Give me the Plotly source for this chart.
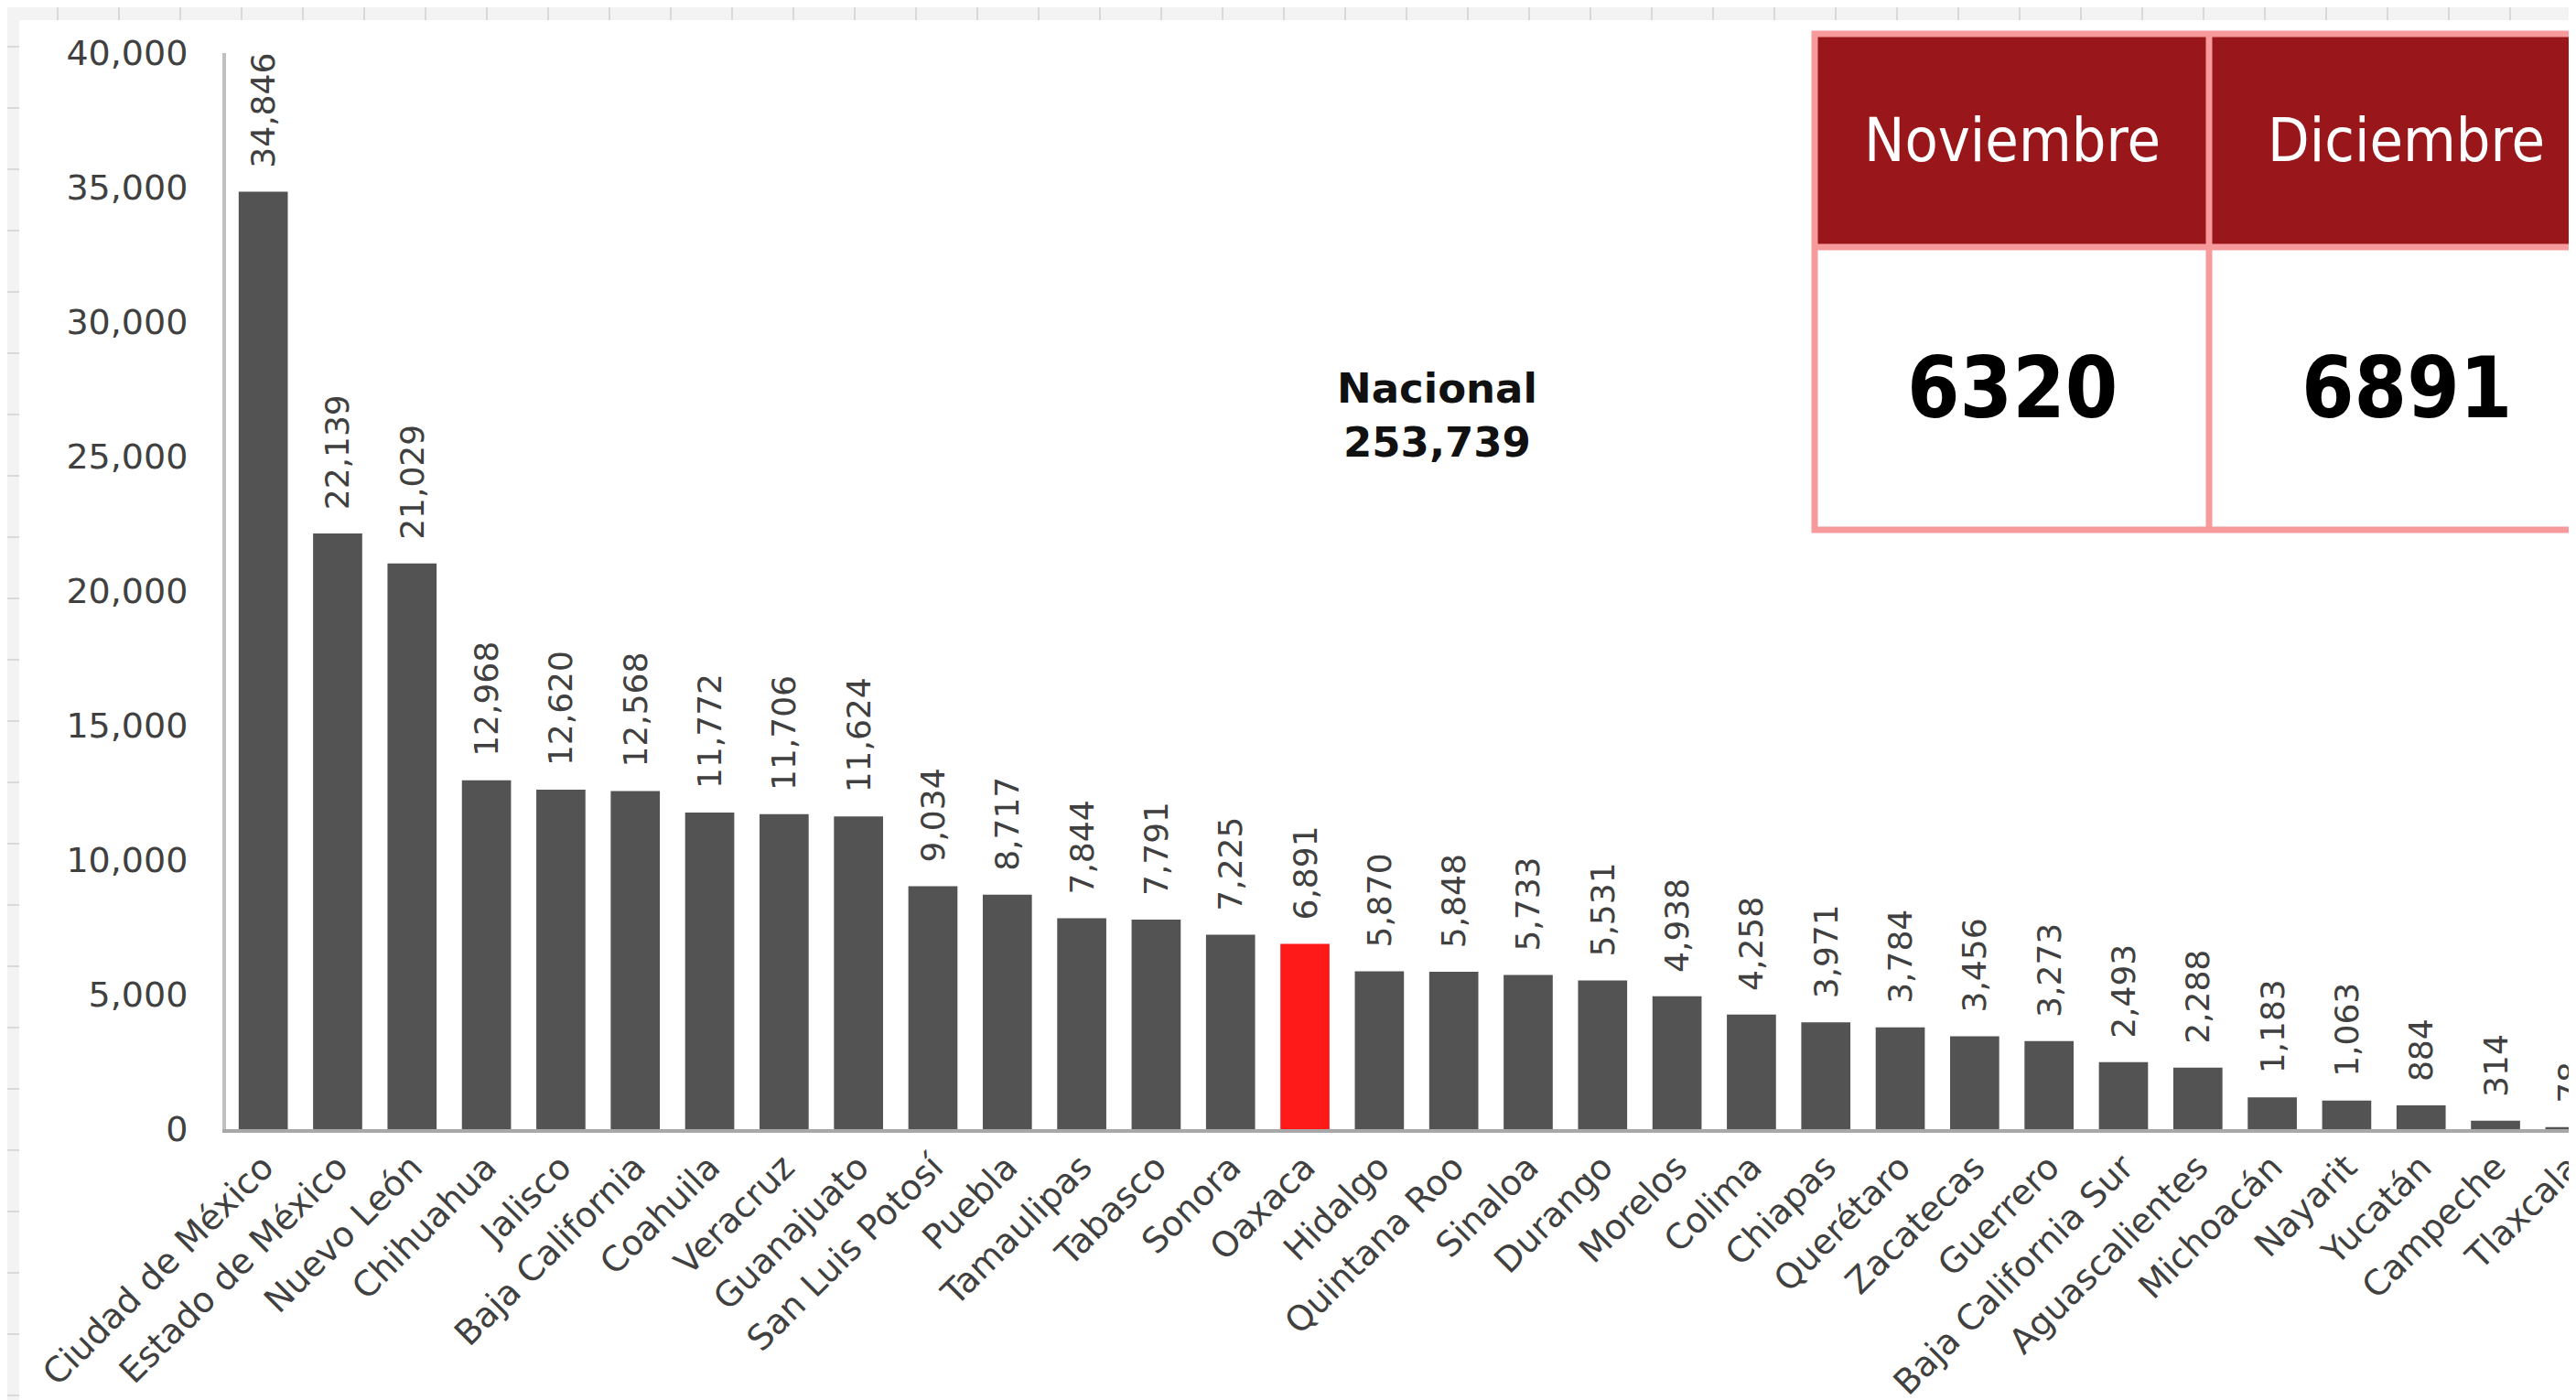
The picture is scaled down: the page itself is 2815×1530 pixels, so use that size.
import plotly.graph_objects as go

# ---------------- data ----------------
estados = ["Ciudad de México", "Estado de México", "Nuevo León", "Chihuahua", "Jalisco",
           "Baja California", "Coahuila", "Veracruz", "Guanajuato", "San Luis Potosí",
           "Puebla", "Tamaulipas", "Tabasco", "Sonora", "Oaxaca", "Hidalgo",
           "Quintana Roo", "Sinaloa", "Durango", "Morelos", "Colima", "Chiapas",
           "Querétaro", "Zacatecas", "Guerrero", "Baja California Sur", "Aguascalientes",
           "Michoacán", "Nayarit", "Yucatán", "Campeche", "Tlaxcala"]
casos = [34846, 22139, 21029, 12968, 12620, 12568, 11772, 11706, 11624, 9034,
         8717, 7844, 7791, 7225, 6891, 5870, 5848, 5733, 5531, 4938, 4258, 3971,
         3784, 3456, 3273, 2493, 2288, 1183, 1063, 884, 314, 78]
destacado = "Oaxaca"
y_ticks = [0, 5000, 10000, 15000, 20000, 25000, 30000, 35000, 40000]
nacional_label = "Nacional"
nacional_total = 253739
meses = ["Noviembre", "Diciembre"]
valores_mes = [6320, 6891]

# ---------------- geometry helpers ----------------
W, H = 2815, 1530
ML, MR, MT, MB = 239, 0, 50, 304
PW, PH = W - ML - MR, H - MT - MB


def X(px):
    return (px - ML) / PW


def Y(py):
    return (H - MB - py) / PH


BAR = "#535353"
HIGHLIGHT = "#ff1a1a"
colors = [HIGHLIGHT if e == destacado else BAR for e in estados]

fig = go.Figure()
fig.add_trace(go.Bar(
    x=estados, y=casos,
    marker=dict(color=colors, line=dict(width=0)),
    texttemplate="\u00a0\u00a0%{y:,}",
    textposition="outside",
    textangle=-90,
    textfont=dict(family="DejaVu Sans", size=36, color="#404040"),
    cliponaxis=False,
    constraintext="none",
    hoverinfo="skip",
))

shapes = []
# spreadsheet-like grey frame (top and left)
shapes.append(dict(type="rect", xref="paper", yref="paper", x0=X(0), x1=X(W), y0=Y(0), y1=Y(14),
                   fillcolor="#f3f3f3", line=dict(width=0), layer="below"))
shapes.append(dict(type="rect", xref="paper", yref="paper", x0=X(0), x1=X(13), y0=Y(0), y1=Y(H),
                   fillcolor="#f3f3f3", line=dict(width=0), layer="below"))
for gx in range(55, W, 67):
    shapes.append(dict(type="line", xref="paper", yref="paper", x0=X(gx), x1=X(gx), y0=Y(0), y1=Y(14),
                       line=dict(color="#d9d9d9", width=2), layer="below"))
for gy in range(43, H, 67):
    shapes.append(dict(type="line", xref="paper", yref="paper", x0=X(0), x1=X(13), y0=Y(gy), y1=Y(gy),
                       line=dict(color="#d9d9d9", width=2), layer="below"))

# table (top right)
T_L, T_M, T_R = 1975, 2406, 2837
T_T, T_H, T_B = 29, 262, 571
PINK = "#f79a9c"
shapes.append(dict(type="rect", xref="paper", yref="paper", x0=X(T_L), x1=X(T_R), y0=Y(T_T), y1=Y(T_H),
                   fillcolor="#99171a", line=dict(width=0), layer="above"))
shapes.append(dict(type="rect", xref="paper", yref="paper", x0=X(T_L), x1=X(T_R), y0=Y(T_H), y1=Y(T_B),
                   fillcolor="white", line=dict(width=0), layer="above"))
shapes.append(dict(type="rect", xref="paper", yref="paper", x0=X(T_L), x1=X(T_R), y0=Y(T_T), y1=Y(T_B),
                   fillcolor="rgba(0,0,0,0)", line=dict(color=PINK, width=7), layer="above"))
shapes.append(dict(type="line", xref="paper", yref="paper", x0=X(T_L), x1=X(T_R), y0=Y(T_H), y1=Y(T_H),
                   line=dict(color=PINK, width=7), layer="above"))
shapes.append(dict(type="line", xref="paper", yref="paper", x0=X(T_M), x1=X(T_M), y0=Y(T_T), y1=Y(T_B),
                   line=dict(color=PINK, width=7), layer="above"))

COND = "DejaVu Sans Condensed, Roboto Condensed, Liberation Sans Narrow, DejaVu Sans, sans-serif"
annotations = []
col_centers = [(T_L + T_M) / 2, (T_M + T_R) / 2]
for cx, mes, val in zip(col_centers, meses, valores_mes):
    annotations.append(dict(x=X(cx), y=Y((T_T + T_H) / 2), xref="paper", yref="paper",
                            text=mes, showarrow=False, xanchor="center", yanchor="middle",
                            font=dict(family=COND, size=66, color="white")))
    annotations.append(dict(x=X(cx), y=Y((T_H + T_B) / 2), xref="paper", yref="paper",
                            text=f"<b>{val}</b>", showarrow=False, xanchor="center", yanchor="middle",
                            font=dict(family=COND, size=92, color="black")))

annotations.append(dict(x=X(1562), y=Y(446), xref="paper", yref="paper",
                        text=f"<b>{nacional_label}</b><br><b>{nacional_total:,}</b>",
                        showarrow=False, xanchor="center", yanchor="middle",
                        font=dict(family="DejaVu Sans", size=45, color="#111111")))

fig.update_layout(
    width=W, height=H,
    margin=dict(l=ML, r=MR, t=MT, b=MB, pad=0),
    paper_bgcolor="white", plot_bgcolor="white",
    showlegend=False,
    bargap=0.34,
    shapes=shapes,
    annotations=annotations,
    xaxis=dict(
        type="category",
        range=[-0.5, 31.18],
        automargin=False,
        showline=True, linecolor="#a8a8a8", linewidth=4,
        ticks="", tickangle=-45,
        tickfont=dict(family="DejaVu Sans", size=38, color="#404040"),
        ticklabelstandoff=0,
        showgrid=False, zeroline=False, fixedrange=True,
    ),
    yaxis=dict(
        range=[0, 40000],
        automargin=False,
        tickvals=y_ticks,
        ticktext=[f"{v:,}" for v in y_ticks],
        showline=True, linecolor="#c0c0c0", linewidth=4,
        ticks="",
        tickfont=dict(family="DejaVu Sans", size=38, color="#404040"),
        ticklabelstandoff=30,
        showgrid=False, zeroline=False, fixedrange=True,
    ),
)

fig.write_html("out.html")
